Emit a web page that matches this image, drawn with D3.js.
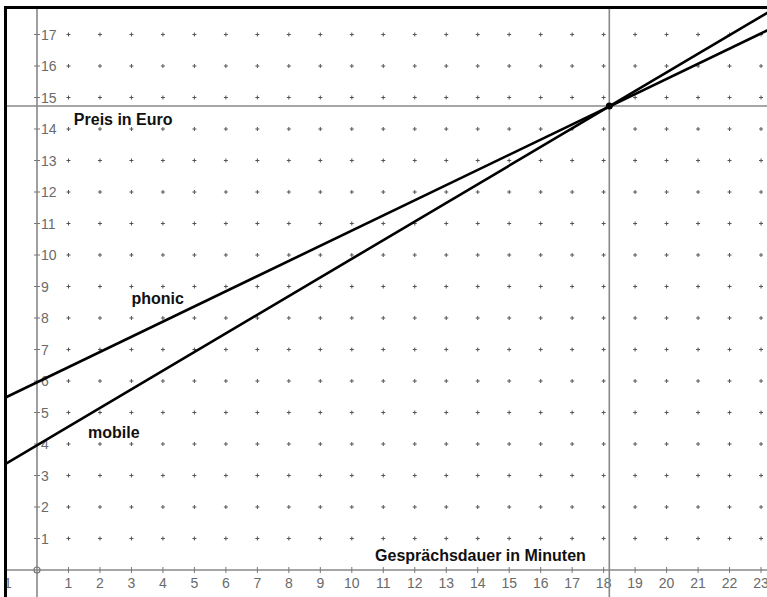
<!DOCTYPE html>
<html><head><meta charset="utf-8">
<script src="https://cdn.jsdelivr.net/npm/d3@7"></script>
<style>body{margin:0;background:#fff}svg{display:block}</style>
</head><body><svg id="c" width="767" height="597"></svg>
<script>
const xTicks = [-1,0,1,2,3,4,5,6,7,8,9,10,11,12,13,14,15,16,17,18,19,20,21,22,23];
const yTicks = [1,2,3,4,5,6,7,8,9,10,11,12,13,14,15,16,17];
const gridX = [1,2,3,4,5,6,7,8,9,10,11,12,13,14,15,16,17,18,19,20,21,22,23];
const gridY = [1,2,3,4,5,6,7,8,9,10,11,12,13,14,15,16,17,18];
const phonicPts = [[-1.2, 5.38], [23.3, 17.18]];
const mobilePts = [[-1.2, 3.25], [23.3, 17.75]];
const intersection = [18.18, 14.73];
const labels = [
  {text: "Preis in Euro", x: 1.17, y: 14.13},
  {text: "phonic", x: 3.0, y: 8.44},
  {text: "mobile", x: 1.62, y: 4.19},
  {text: "Gesprächsdauer in Minuten", x: 10.74, y: 0.29}
];

const svg = d3.select("#c");
const x = d3.scaleLinear().domain([0, 23]).range([37, 37 + 23 * 31.48]);
const y = d3.scaleLinear().domain([0, 17]).range([570, 34.5]);
const W = 767, H = 597;

svg.append("defs").append("clipPath").attr("id", "clip")
  .append("rect").attr("x", 5).attr("y", 7).attr("width", W).attr("height", H);
const g = svg.append("g").attr("clip-path", "url(#clip)");

// grid crosses
const dots = [];
gridX.forEach(a => gridY.forEach(b => dots.push([a, b])));
g.append("g").selectAll("path").data(dots).join("path")
  .attr("d", d => `M${x(d[0]) - 2},${y(d[1])}h4M${x(d[0])},${y(d[1]) - 2}v4`)
  .attr("stroke", "#555").attr("stroke-width", 1);

// axes
g.append("line").attr("x1", 0).attr("x2", W).attr("y1", y(0)).attr("y2", y(0))
  .attr("stroke", "#888").attr("stroke-width", 1.6);
g.append("line").attr("x1", x(0)).attr("x2", x(0)).attr("y1", 0).attr("y2", H)
  .attr("stroke", "#888").attr("stroke-width", 1.6);

// x ticks
g.append("g").selectAll("line").data(xTicks.filter(d => d !== 0)).join("line")
  .attr("x1", d => x(d)).attr("x2", d => x(d)).attr("y1", y(0) - 3).attr("y2", y(0) + 3)
  .attr("stroke", "#777").attr("stroke-width", 1);
g.append("g").selectAll("text").data(xTicks.filter(d => d !== 0)).join("text")
  .attr("x", d => x(d)).attr("y", y(0) + 18).attr("text-anchor", "middle")
  .attr("font-family", "Liberation Sans, Arial, sans-serif").attr("font-size", 14)
  .attr("fill", "#6a6a6a").text(d => d);

// y ticks
g.append("g").selectAll("line").data(yTicks).join("line")
  .attr("x1", x(0) - 3).attr("x2", x(0) + 3).attr("y1", d => y(d)).attr("y2", d => y(d))
  .attr("stroke", "#777").attr("stroke-width", 1);
g.append("g").selectAll("text").data(yTicks).join("text")
  .attr("x", x(0) + 4).attr("y", d => y(d) + 5).attr("text-anchor", "start")
  .attr("font-family", "Liberation Sans, Arial, sans-serif").attr("font-size", 14)
  .attr("fill", "#6a6a6a").text(d => d);

// origin circle
g.append("circle").attr("cx", x(0)).attr("cy", y(0)).attr("r", 3)
  .attr("fill", "none").attr("stroke", "#777").attr("stroke-width", 1.2);

// helper lines through intersection
g.append("line").attr("x1", x(intersection[0])).attr("x2", x(intersection[0]))
  .attr("y1", 0).attr("y2", H).attr("stroke", "#888").attr("stroke-width", 1.6);
g.append("line").attr("x1", 0).attr("x2", W)
  .attr("y1", y(intersection[1])).attr("y2", y(intersection[1]))
  .attr("stroke", "#888").attr("stroke-width", 1.6);

// tariff lines
const line = d3.line().x(d => x(d[0])).y(d => y(d[1]));
[phonicPts, mobilePts].forEach(p => {
  g.append("path").datum(p).attr("d", line).attr("fill", "none")
    .attr("stroke", "#000").attr("stroke-width", 2.6);
});

g.append("circle").attr("cx", x(intersection[0])).attr("cy", y(intersection[1]))
  .attr("r", 3.5).attr("fill", "#000");

// labels
g.append("g").selectAll("text").data(labels).join("text")
  .attr("x", d => x(d.x)).attr("y", d => y(d.y))
  .attr("font-family", "Liberation Sans, Arial, sans-serif").attr("font-size", 16)
  .attr("font-weight", "bold").attr("fill", "#111").text(d => d.text);

// frame
svg.append("line").attr("x1", 5.5).attr("x2", 5.5).attr("y1", 6).attr("y2", H)
  .attr("stroke", "#000").attr("stroke-width", 3);
svg.append("line").attr("x1", 4).attr("x2", W).attr("y1", 7.5).attr("y2", 7.5)
  .attr("stroke", "#000").attr("stroke-width", 3);
</script></body></html>
